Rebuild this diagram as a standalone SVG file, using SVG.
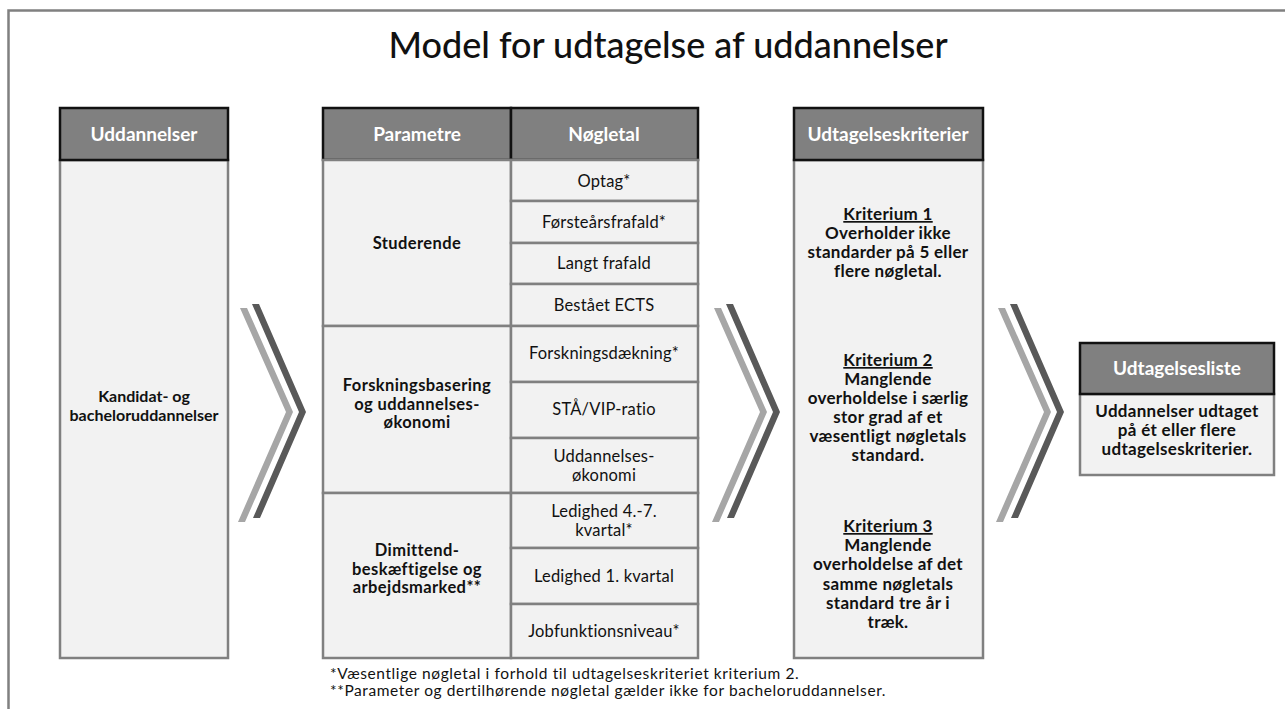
<svg xmlns="http://www.w3.org/2000/svg" width="1285" height="709" viewBox="0 0 1285 709">
<style>
.frame{fill:#fff;stroke:#808080;stroke-width:2.5}
.hdr{fill:#808080;stroke:#111;stroke-width:2.5}
.body{fill:#f2f2f2;stroke:#808080;stroke-width:2.5}
text{font-family:Lato,"Open Sans","Liberation Sans",sans-serif;fill:#111;text-anchor:middle}
.title{font-size:36px;font-weight:500}
.ht{font-size:19px;font-weight:700;fill:#fff}
.b{font-size:17px;font-weight:700;letter-spacing:0.3px}
.p{font-size:16.5px;font-weight:700;letter-spacing:0.4px}
.b1{font-size:16px;font-weight:700}
.r{font-size:16.5px;font-weight:400;letter-spacing:0.2px}
.fn{font-size:15.5px;letter-spacing:0.6px;text-anchor:start}
.light{fill:#a6a6a6}
.dark{fill:#595959}
</style>
<defs>
<g id="chev">
<polygon class="light" points="240,308 247,308 293,412 245,522 238,522 286,412"/>
<polygon class="dark" points="252,304 259,304 306,412 260,518 253,518 299,412"/>
</g>
</defs>
<rect class="frame" x="8.5" y="10.5" width="1300" height="720"/>
<text class="title" x="668" y="58">Model for udtagelse af uddannelser</text>

<g id="uddannelser">
<rect class="body" x="60" y="160" width="168" height="498"/>
<rect class="hdr" x="60" y="108" width="168" height="52"/>
<text class="ht" x="144" y="141">Uddannelser</text>
<text class="b1" x="144" y="402">Kandidat- og</text>
<text class="b1" x="144" y="421">bacheloruddannelser</text>
</g>

<g id="parametre">
<rect class="hdr" x="323" y="108" width="188" height="52"/>
<rect class="hdr" x="511" y="108" width="187" height="52"/>
<text class="ht" x="417" y="141">Parametre</text>
<text class="ht" x="604" y="141">Nøgletal</text>
<rect class="body" x="323" y="160" width="188" height="166"/>
<rect class="body" x="323" y="326" width="188" height="167"/>
<rect class="body" x="323" y="493" width="188" height="165"/>
<text class="p" x="417" y="249">Studerende</text>
<text class="p" x="417" y="391">Forskningsbasering</text>
<text class="p" x="417" y="409.5">og uddannelses-</text>
<text class="p" x="417" y="428">økonomi</text>
<text class="p" x="417" y="556">Dimittend-</text>
<text class="p" x="417" y="574.5">beskæftigelse og</text>
<text class="p" x="417" y="593">arbejdsmarked**</text>
<rect class="body" x="511" y="160" width="187" height="41"/>
<rect class="body" x="511" y="201" width="187" height="42"/>
<rect class="body" x="511" y="243" width="187" height="41"/>
<rect class="body" x="511" y="284" width="187" height="42"/>
<rect class="body" x="511" y="326" width="187" height="56"/>
<rect class="body" x="511" y="382" width="187" height="56"/>
<rect class="body" x="511" y="438" width="187" height="55"/>
<rect class="body" x="511" y="493" width="187" height="55"/>
<rect class="body" x="511" y="548" width="187" height="56"/>
<rect class="body" x="511" y="604" width="187" height="54"/>
<text class="r" x="604" y="187">Optag*</text>
<text class="r" x="604" y="228">Førsteårsfrafald*</text>
<text class="r" x="604" y="269">Langt frafald</text>
<text class="r" x="604" y="311">Bestået ECTS</text>
<text class="r" x="604" y="359">Forskningsdækning*</text>
<text class="r" x="604" y="415">STÅ/VIP-ratio</text>
<text class="r" x="604" y="462">Uddannelses-</text>
<text class="r" x="604" y="481">økonomi</text>
<text class="r" x="604" y="517">Ledighed 4.-7.</text>
<text class="r" x="604" y="536">kvartal*</text>
<text class="r" x="604" y="582">Ledighed 1. kvartal</text>
<text class="r" x="604" y="637">Jobfunktionsniveau*</text>
</g>

<g id="kriterier">
<rect class="body" x="794" y="160" width="189" height="498"/>
<rect class="hdr" x="794" y="108" width="189" height="52"/>
<text class="ht" x="888" y="141">Udtagelseskriterier</text>
<text class="b" x="888" y="220" text-decoration="underline">Kriterium 1</text>
<text class="b" x="888" y="239">Overholder ikke</text>
<text class="b" x="888" y="258">standarder på 5 eller</text>
<text class="b" x="888" y="277">flere nøgletal.</text>
<text class="b" x="888" y="366" text-decoration="underline">Kriterium 2</text>
<text class="b" x="888" y="385">Manglende</text>
<text class="b" x="888" y="404">overholdelse i særlig</text>
<text class="b" x="888" y="423">stor grad af et</text>
<text class="b" x="888" y="442">væsentligt nøgletals</text>
<text class="b" x="888" y="461">standard.</text>
<text class="b" x="888" y="532" text-decoration="underline">Kriterium 3</text>
<text class="b" x="888" y="551">Manglende</text>
<text class="b" x="888" y="570">overholdelse af det</text>
<text class="b" x="888" y="590">samme nøgletals</text>
<text class="b" x="888" y="609">standard tre år i</text>
<text class="b" x="888" y="628">træk.</text>
</g>

<g id="udtagelsesliste">
<rect class="body" x="1080" y="394" width="194" height="81"/>
<rect class="hdr" x="1080" y="343" width="194" height="51"/>
<text class="ht" x="1177" y="375">Udtagelsesliste</text>
<text class="b" x="1177" y="417">Uddannelser udtaget</text>
<text class="b" x="1177" y="436">på ét eller flere</text>
<text class="b" x="1177" y="455">udtagelseskriterier.</text>
</g>

<g id="connectors">
<use href="#chev"/>
<use href="#chev" x="474"/>
<use href="#chev" x="758"/>
</g>

<text class="fn" x="330" y="679">*Væsentlige nøgletal i forhold til udtagelseskriteriet kriterium 2.</text>
<text class="fn" x="330" y="696">**Parameter og dertilhørende nøgletal gælder ikke for bacheloruddannelser.</text>
</svg>
